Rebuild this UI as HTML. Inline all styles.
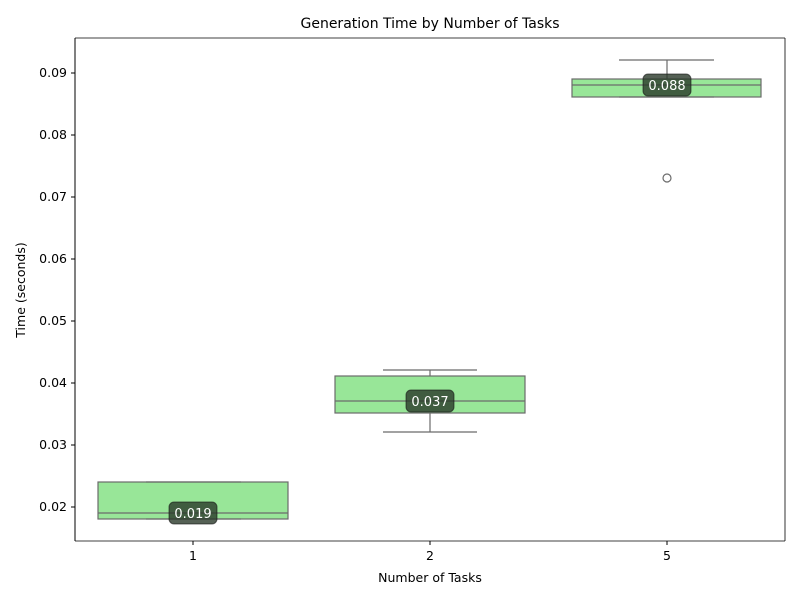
<!DOCTYPE html>
<html><head><style>body{margin:0;background:#fff}svg{display:block}text{font-family:"DejaVu Sans","Liberation Sans",sans-serif}</style></head>
<body>
<svg width="800" height="600" xmlns="http://www.w3.org/2000/svg">
<rect width="800" height="600" fill="#fff"/>
<text x="430" y="28" font-size="14" text-anchor="middle">Generation Time by Number of Tasks</text>
<g stroke="#000" stroke-width="1">
<line x1="75" y1="541" x2="75" y2="38"/>
<line x1="75" y1="541" x2="785" y2="541" stroke-width="0.8"/>
<line x1="785" y1="38" x2="785" y2="541" stroke-width="0.8"/>
<line x1="75" y1="38" x2="785" y2="38" stroke-width="0.8"/>
</g>
<g font-size="12.5" text-anchor="end">
<line x1="71" y1="507" x2="75" y2="507" stroke="#000"/><text x="67" y="511">0.02</text>
<line x1="71" y1="445" x2="75" y2="445" stroke="#000"/><text x="67" y="449">0.03</text>
<line x1="71" y1="383" x2="75" y2="383" stroke="#000"/><text x="67" y="387">0.04</text>
<line x1="71" y1="321" x2="75" y2="321" stroke="#000"/><text x="67" y="325">0.05</text>
<line x1="71" y1="259" x2="75" y2="259" stroke="#000"/><text x="67" y="263">0.06</text>
<line x1="71" y1="197" x2="75" y2="197" stroke="#000"/><text x="67" y="201">0.07</text>
<line x1="71" y1="135" x2="75" y2="135" stroke="#000"/><text x="67" y="139">0.08</text>
<line x1="71" y1="73" x2="75" y2="73" stroke="#000"/><text x="67" y="77">0.09</text>
</g>
<g font-size="12.5" text-anchor="middle">
<line x1="193" y1="541" x2="193" y2="545" stroke="#000"/><text x="193" y="560">1</text>
<line x1="430" y1="541" x2="430" y2="545" stroke="#000"/><text x="430" y="560">2</text>
<line x1="667" y1="541" x2="667" y2="545" stroke="#000"/><text x="667" y="560">5</text>
<text x="430" y="582">Number of Tasks</text>
<text transform="translate(25,290) rotate(-90)">Time (seconds)</text>
</g>
<g stroke="#6b6b6b" stroke-width="1.2" fill="#98e698">
<rect x="98" y="482" width="190" height="37"/>
<line x1="98" y1="513" x2="288" y2="513"/>
<line x1="146" y1="482" x2="241" y2="482"/>
<line x1="146" y1="519" x2="241" y2="519"/>
<rect x="335" y="376" width="190" height="37"/>
<line x1="335" y1="401" x2="525" y2="401"/>
<line x1="430" y1="376" x2="430" y2="370"/><line x1="383" y1="370" x2="477" y2="370"/>
<line x1="430" y1="413" x2="430" y2="432"/><line x1="383" y1="432" x2="477" y2="432"/>
<rect x="572" y="79" width="189" height="18"/>
<line x1="572" y1="85" x2="761" y2="85"/>
<line x1="667" y1="79" x2="667" y2="60"/><line x1="619" y1="60" x2="714" y2="60"/>
<line x1="619" y1="97" x2="714" y2="97"/>
<circle cx="667" cy="178" r="4" fill="none"/>
</g>
<g font-size="13" fill="#fff" text-anchor="middle">
<rect x="169" y="502" width="48" height="22" rx="5" fill="#2a3a2a" fill-opacity="0.8" stroke="#111" stroke-opacity="0.6"/>
<text x="193" y="518">0.019</text>
<rect x="406" y="390" width="48" height="22" rx="5" fill="#2a3a2a" fill-opacity="0.8" stroke="#111" stroke-opacity="0.6"/>
<text x="430" y="406">0.037</text>
<rect x="643" y="74" width="48" height="22" rx="5" fill="#2a3a2a" fill-opacity="0.8" stroke="#111" stroke-opacity="0.6"/>
<text x="667" y="90">0.088</text>
</g>
</svg>
</body></html>
